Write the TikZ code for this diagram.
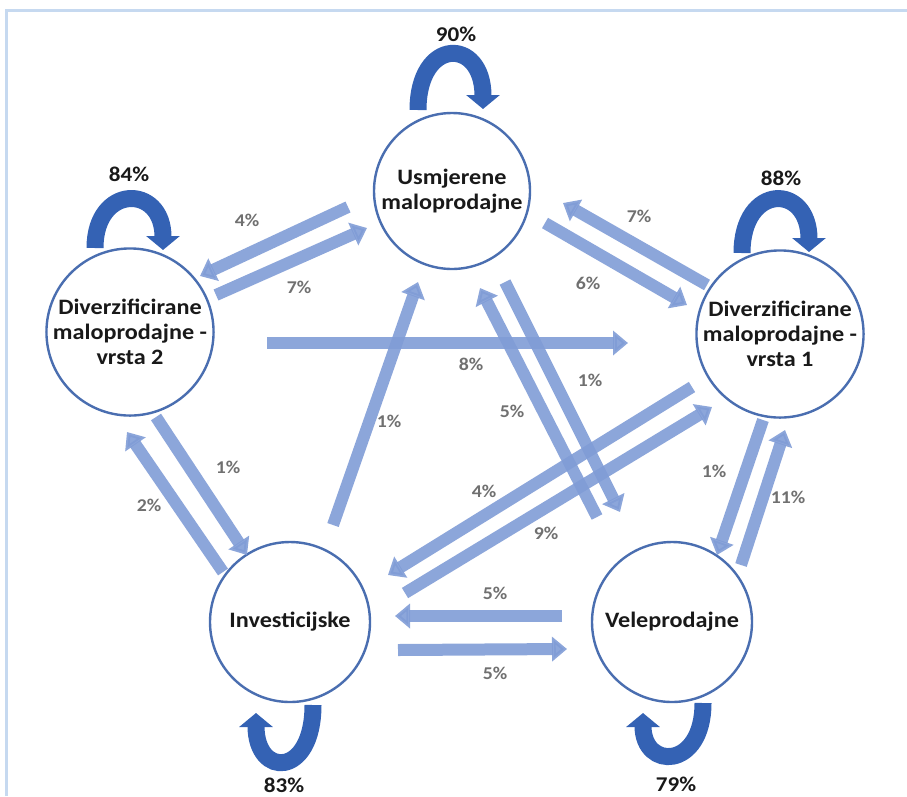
\documentclass[tikz,border=0pt]{standalone}
\usepackage{fontspec}
\setmainfont{Carlito}[FakeStretch=1.1]
\usetikzlibrary{arrows.meta}
\definecolor{circleBlue}{RGB}{74,110,176}
\definecolor{flowBlue}{RGB}{128,156,214}
\definecolor{loopBlue}{RGB}{52,98,180}
\definecolor{rateGray}{RGB}{112,112,112}
\definecolor{frameBlue}{RGB}{198,217,240}
\newcommand{\stateFont}{\fontsize{22}{25}\selectfont\bfseries}
\newcommand{\rateFont}{\fontsize{18}{20}\selectfont\bfseries}
\newcommand{\selfFont}{\fontsize{21}{24}\selectfont\bfseries}
%% A grey transition rate.
\newcommand{\rateLabel}[3]{%%
  \node[rateStyle] (#1) at (#2) {#3\%};
}
%% A block arrow between two named points, with its rate.
\newcommand{\flowArrow}[5]{%%
  \coordinate (#1From) at (#2);
  \coordinate (#1To) at (#3);
  \draw[flowStyle] (#1From) -- (#1To);
  \rateLabel{#1Rate}{#4}{#5}
}
%% A thick loop back to the same state.
\newcommand{\selfLoop}[6]{%%
  \coordinate (#1From) at (#2);
  \coordinate (#1To) at (#3);
  \draw[selfStyle] (#1From) .. controls #4 .. (#1To);
  \node[selfRateStyle] (#1Rate) at (#5) {#6\%};
}

\begin{document}
\begin{tikzpicture}[x=1pt,y=-1pt,%%
  stateStyle/.style={circle,draw=circleBlue,line width=2.4pt,fill=white,minimum size=160pt,inner sep=0pt,align=center,font=\stateFont,text=black!90},%%
  flowStyle/.style={draw=flowBlue,opacity=0.9,line width=12pt,-{Triangle[width=24pt,length=15pt]}},%%
  selfStyle/.style={draw=loopBlue,line width=17pt,-{Triangle[width=33pt,length=14pt]}},%%
  rateStyle/.style={font=\rateFont,text=rateGray},%%
  selfRateStyle/.style={font=\selfFont,text=black!90},%%
  frameStyle/.style={draw=frameBlue,line width=3pt}
]
\useasboundingbox (0,0) rectangle (907,796);
%% The frame.
\coordinate (frameBottom) at (6,796);
\coordinate (frameCorner) at (6,10);
\coordinate (frameRight) at (907,10);
\draw[frameStyle] (frameBottom) -- (frameCorner) -- (frameRight);
%%
%% The five states.
\node[stateStyle,minimum size=156pt] (usmjerene) at (452,191) {Usmjerene\\maloprodajne};
\node[stateStyle] (divVrstaDva) at (130,332) {Diverzificirane\\maloprodajne -\\vrsta 2};
\node[stateStyle] (divVrstaJedan) at (780,334) {Diverzificirane\\maloprodajne -\\vrsta 1};
\node[stateStyle] (investicijske) at (290,622) {Investicijske};
\node[stateStyle] (veleprodajne) at (672,622) {Veleprodajne};
%%
%% Staying in the same state.
\selfLoop{usmSelf}{418,110}{483,109}{(418,37) and (483,37)}{456,34}{90}
\selfLoop{divDvaSelf}{95,248}{163,250}{(95,184) and (163,184)}{129,174}{84}
\selfLoop{divJedanSelf}{742,253}{809,252}{(742,183) and (809,183)}{781,178}{88}
\selfLoop{invSelf}{313,705}{256,713}{(313,778) and (256,778)}{284,785}{83}
\selfLoop{veleSelf}{703,703}{643,713}{(703,770) and (643,770)}{676,784}{79}
%%
%% Moving between states.
\flowArrow{usmToDivDva}{348,207}{200,276}{247,220}{4}
\flowArrow{divDvaToUsm}{216,295}{367,228}{299,287}{7}
\flowArrow{usmToDivJedan}{545,223}{687,305}{588,283}{6}
\flowArrow{divJedanToUsm}{707,285}{563,203}{639,216}{7}
\flowArrow{divDvaToDivJedan}{267,343}{628,343}{471,364}{8}
\flowArrow{invToUsm}{333,525}{418,282}{389,421}{1}
\flowArrow{usmToVele}{505,282}{620,512}{590,380}{1}
\flowArrow{veleToUsm}{597,517}{480,288}{512,411}{5}
\flowArrow{divDvaToInv}{156,417}{247,555}{228,467}{1}
\flowArrow{invToDivDva}{223,572}{127,432}{149,505}{2}
\flowArrow{divJedanToInv}{692,387}{388,575}{484,491}{4}
\flowArrow{invToDivJedan}{405,593}{712,407}{546,533}{9}
\flowArrow{veleToInv}{562,616}{395,616}{495,593}{5}
\flowArrow{invToVele}{398,650}{567,649}{495,673}{5}
\flowArrow{divJedanToVele}{763,420}{717,555}{714,471}{1}
\flowArrow{veleToDivJedan}{741,565}{785,430}{788,497}{11}
\end{tikzpicture}
\end{document}
